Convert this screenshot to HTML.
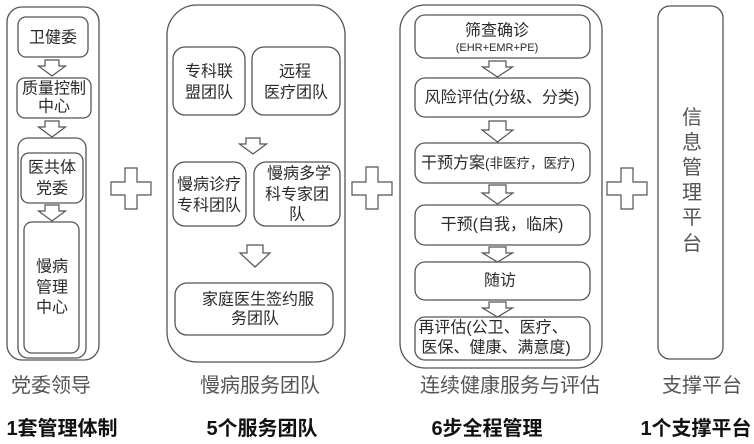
<!DOCTYPE html>
<html><head><meta charset="utf-8"><style>
html,body{margin:0;padding:0;background:#fff;}
svg{display:block;}
text{font-family:"Liberation Sans","Noto Sans CJK SC",sans-serif;}
.t{font-size:16px;fill:#2a2a2a;text-anchor:middle;dominant-baseline:central;}
.lab{font-size:20px;fill:#555;text-anchor:middle;dominant-baseline:central;}
.big{font-size:20px;fill:#111;font-weight:bold;text-anchor:middle;dominant-baseline:central;}
.b{fill:#fff;stroke:#555;stroke-width:1.3;}
.ar{fill:#fff;stroke:#555;stroke-width:1.2;stroke-linejoin:miter;}
</style></head><body>
<svg width="754" height="444" viewBox="0 0 754 444" xmlns="http://www.w3.org/2000/svg">
<!-- Column 1 -->
<rect class="b" x="7" y="7" width="92" height="353" rx="15"/>
<rect class="b" x="18" y="17" width="70" height="40" rx="8"/>
<text class="t" x="53" y="38">卫健委</text>
<path class="ar" d="M45,60 H59 V66 H65.5 L52,76 L38.5,66 H45 Z"/>
<rect class="b" x="17" y="78" width="74" height="40" rx="8"/>
<text class="t" x="54" y="89">质量控制</text>
<text class="t" x="54" y="107">中心</text>
<path class="ar" d="M45,121 H59 V127 H65.5 L52,137 L38.5,127 H45 Z"/>
<rect class="b" x="18" y="138" width="68" height="220" rx="10"/>
<rect class="b" x="21" y="153" width="62" height="50" rx="8"/>
<text class="t" x="52" y="168">医共体</text>
<text class="t" x="52" y="189">党委</text>
<path class="ar" d="M45,205 H59 V211 H65.5 L52,221 L38.5,211 H45 Z"/>
<rect class="b" x="24" y="222" width="55" height="131" rx="8"/>
<text class="t" x="52" y="267">慢病</text>
<text class="t" x="52" y="288">管理</text>
<text class="t" x="52" y="308">中心</text>
<text class="lab" x="51" y="386">党委领导</text>
<text class="big" x="62" y="429">1套管理体制</text>

<!-- plus signs -->
<path class="ar" d="M125,168 H137 V182 H151 V195 H137 V209 H125 V195 H111 V182 H125 Z"/>
<path class="ar" d="M366,167 H378 V182 H392 V195 H378 V209 H366 V195 H352 V182 H366 Z"/>
<path class="ar" d="M621,168 H633 V182 H647 V195 H633 V209 H621 V195 H607 V182 H621 Z"/>

<!-- Column 2 -->
<rect class="b" x="167" y="5" width="178" height="357" rx="30"/>
<rect class="b" x="173" y="47" width="72" height="68" rx="12"/>
<text class="t" x="209" y="72">专科联</text>
<text class="t" x="209" y="93">盟团队</text>
<rect class="b" x="252" y="47" width="88" height="68" rx="12"/>
<text class="t" x="295" y="72">远程</text>
<text class="t" x="296" y="93">医疗团队</text>
<path class="ar" d="M246,138 H260 V144 H266.5 L253,154 L239.5,144 H246 Z"/>
<rect class="b" x="173" y="162" width="73" height="64" rx="12"/>
<text class="t" x="209" y="185">慢病诊疗</text>
<text class="t" x="209" y="206">专科团队</text>
<rect class="b" x="254" y="162" width="86" height="64" rx="12"/>
<text class="t" x="299" y="174">慢病多学</text>
<text class="t" x="297" y="195">科专家团</text>
<text class="t" x="297" y="215">队</text>
<path class="ar" d="M247,245 H263 V253 H270 L255,267 L240,253 H247 Z"/>
<rect class="b" x="175" y="283" width="158" height="52" rx="12"/>
<text class="t" x="258" y="300">家庭医生签约服</text>
<text class="t" x="255" y="319">务团队</text>
<text class="lab" x="260" y="386">慢病服务团队</text>
<text class="big" x="262" y="429">5个服务团队</text>

<!-- Column 3 -->
<rect class="b" x="400" y="5" width="202" height="363" rx="25"/>
<rect class="b" x="415" y="15" width="175" height="43" rx="10"/>
<text class="t" x="497" y="31">筛查确诊</text>
<text class="t" x="497" y="48" style="font-size:11px">(EHR+EMR+PE)</text>
<path class="ar" d="M489,61 H506 V67 H512.5 L497.5,77 L482.5,67 H489 Z"/>
<rect class="b" x="415" y="78" width="175" height="39" rx="10"/>
<text class="t" x="502" y="98">风险评估(分级、分类)</text>
<path class="ar" d="M489,121 H506 V130 H513 L497.5,142 L482,130 H489 Z"/>
<rect class="b" x="415" y="143" width="175" height="40" rx="10"/>
<text class="t" x="498" y="163"><tspan>干预方案</tspan><tspan style="font-size:13.5px">(非医疗，医疗)</tspan></text>
<path class="ar" d="M489,185 H506 V193 H513 L497.5,204 L482,193 H489 Z"/>
<rect class="b" x="415" y="205" width="175" height="40" rx="10"/>
<text class="t" x="502" y="225">干预(自我，临床)</text>
<path class="ar" d="M489,247 H506 V253 H512.5 L497.5,262 L482.5,253 H489 Z"/>
<rect class="b" x="415" y="262" width="175" height="38" rx="10"/>
<text class="t" x="500" y="281">随访</text>
<path class="ar" d="M489,302 H506 V308 H512.5 L497.5,317 L482.5,308 H489 Z"/>
<rect class="b" x="415" y="317" width="175" height="43" rx="10"/>
<text class="t" x="493" y="328">再评估(公卫、医疗、</text>
<text class="t" x="496" y="348">医保、健康、满意度)</text>
<text class="lab" x="510" y="386">连续健康服务与评估</text>
<text class="big" x="487" y="429">6步全程管理</text>

<!-- Column 4 -->
<rect class="b" x="658" y="6" width="65" height="353" rx="12"/>
<text class="lab" x="692" y="118">信</text>
<text class="lab" x="692" y="143">息</text>
<text class="lab" x="692" y="168">管</text>
<text class="lab" x="692" y="193">理</text>
<text class="lab" x="692" y="218">平</text>
<text class="lab" x="692" y="244">台</text>
<text class="lab" x="702" y="386">支撑平台</text>
<text class="big" x="696" y="429">1个支撑平台</text>
</svg>
</body></html>
